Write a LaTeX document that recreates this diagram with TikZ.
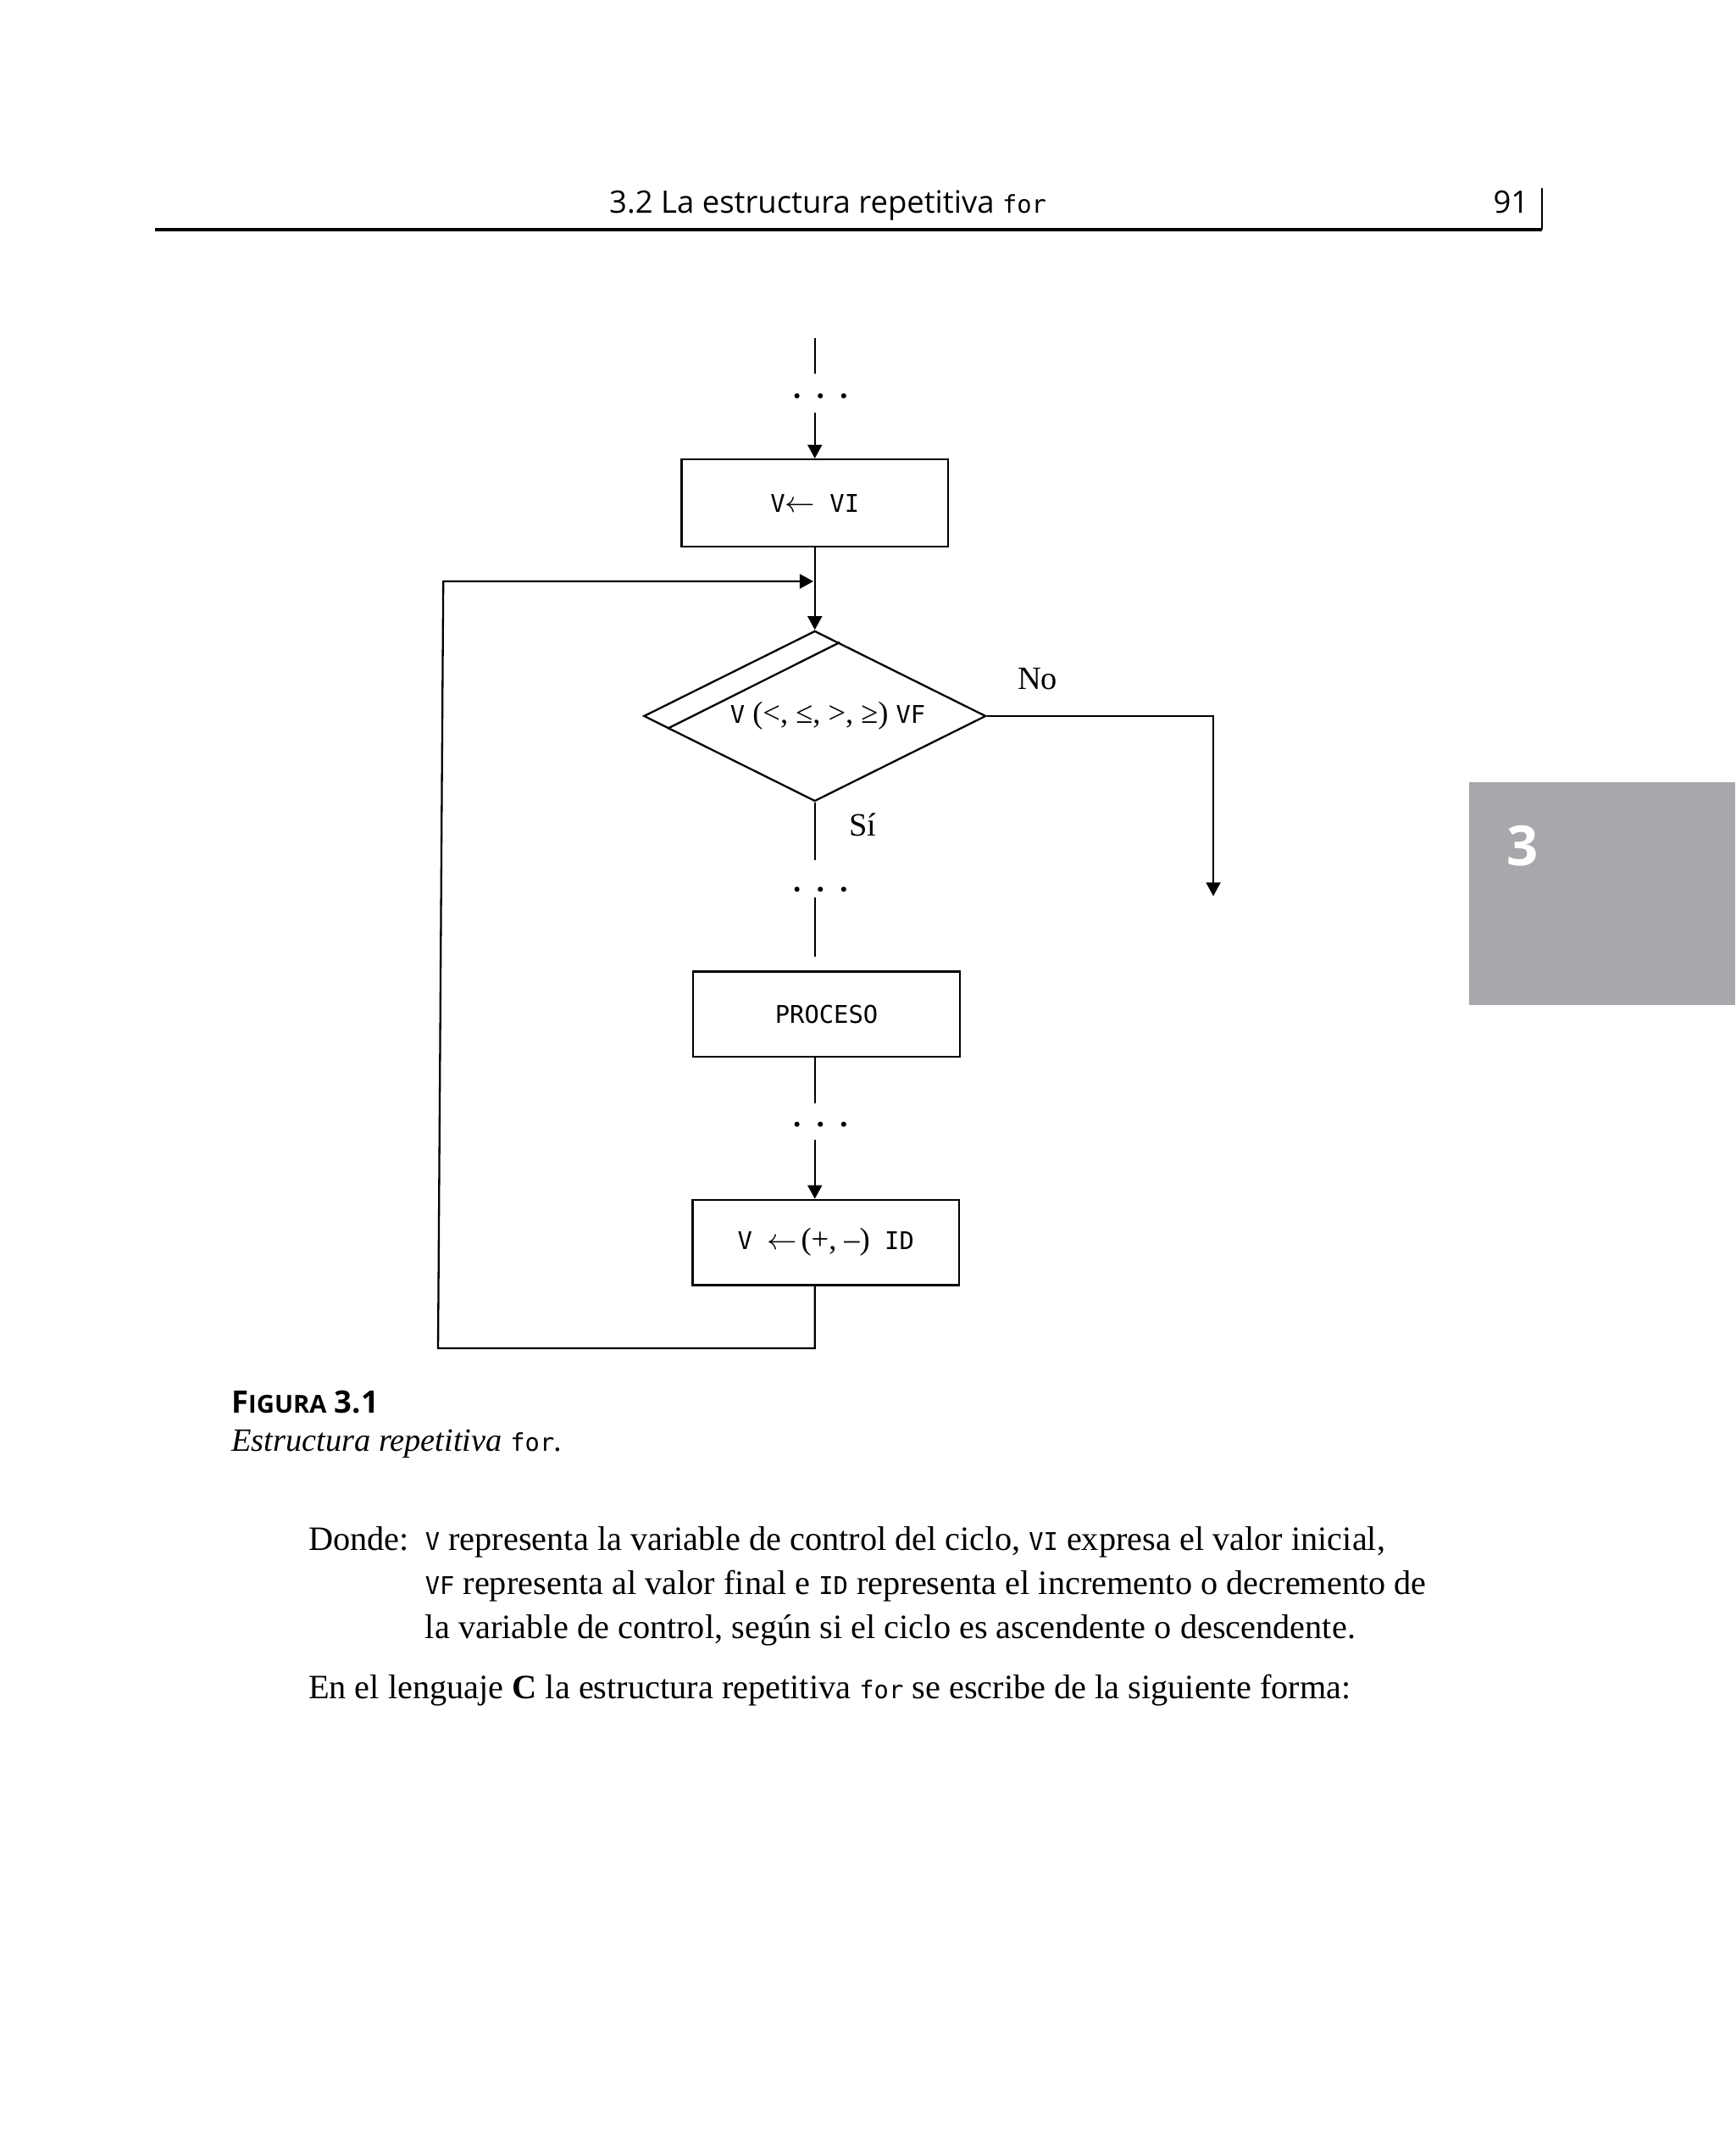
\documentclass[tikz,border=0pt]{standalone}
\usepackage{fontspec}
\setmainfont{Liberation Serif}
\setsansfont{Open Sans}
\setmonofont{DejaVu Sans Mono}
\usetikzlibrary{shapes.geometric,arrows.meta,calc}
\newcommand\pxu{0.014846cm}
\newcommand\codetxt[1]{{\fontsize{7.5}{9}\ttfamily\upshape #1}}
\newcommand\assignarrow{{\fontsize{9.5}{11}\rmfamily$\leftarrow$}}
\definecolor{tabgray}{RGB}{168,168,172}
\tikzset{
  flowline/.style={line width=0.6pt},
  flowarrow/.style={line width=0.6pt,-{Triangle[length=4.2pt,width=4.4pt]}},
  flowbox/.style={draw,line width=0.6pt,rectangle,inner sep=0pt,minimum width=194*\pxu,minimum height=62*\pxu,font=\fontsize{7.5}{9}\ttfamily},
  decision/.style={draw,line width=0.6pt,diamond,aspect=2,inner sep=0pt,minimum width=249*\pxu,minimum height=124*\pxu,font=\fontsize{9.5}{11}\selectfont},
  branchlabel/.style={inner sep=0pt,font=\fontsize{10}{12}\selectfont},
  bodyline/.style={anchor=base west,inner sep=0pt,font=\fontsize{10.5}{13.5}\selectfont},
}
\begin{document}
\begin{tikzpicture}[x=\pxu,y=-\pxu]
\useasboundingbox (0,0) rectangle (1263,1568);
%header
\node[anchor=base west,inner sep=0,font=\fontsize{9.5}{11}\sffamily] (headtitle) at (443,155){3.2 La estructura repetitiva \codetxt{for}};
\node[anchor=base east,inner sep=0,font=\fontsize{9.5}{11}\sffamily] (headpage) at (1113,155){91};
\path[draw,line width=1pt] (113,167) -- (1122,167);
\path[draw,line width=0.5pt] (1122,137) -- (1122,167);
%chapter tab
\fill[tabgray] (1069,569) rectangle (1263,731);
\node[anchor=base west,inner sep=0,text=white,font=\fontsize{17}{20}\sffamily\bfseries] (tabnum) at (1096,630){3};

%flowchart
\node[flowbox,minimum height=63.5*\pxu] (init) at (593,366){V\assignarrow\ VI};
\node[decision] (cond) at (593,521){\hspace*{8pt}\codetxt{V} (<, ≤, >, ≥) \codetxt{VF}};
\node[flowbox] (proc) at (601.5,738){PROCESO};
\node[flowbox] (incr) at (601,904){V \assignarrow\,{\fontsize{9.5}{11}\rmfamily(+, –)} ID};
\path[draw,flowline] ($(cond.west)!0.145!(cond.south)$) -- ($(cond.north)!0.145!(cond.east)$);

\coordinate (topA) at (593,246);
\coordinate (topB) at (593,272);
\coordinate (topC) at (593,300);
\coordinate (midA) at (593,626);
\coordinate (midB) at (593,653);
\coordinate (midC) at (593,696);
\coordinate (lowA) at (593,803);
\coordinate (lowB) at (593,829);
\coordinate (loopR) at (593,981);
\coordinate (loopL) at (318.8,981);
\coordinate (loopT) at (322.6,423);
\coordinate (loopin) at (592,423);
\coordinate (noend) at (883,652);

\path[draw,flowline] (topA) -- (topB);
\path[draw,flowarrow] (topC) -- (init.north);
\path[draw,flowarrow] (init.south) -- (cond.north);
\path[draw,flowline] (cond.south) -- (midA);
\path[draw,flowline] (midB) -- (midC);
\path[draw,flowline] (proc.south -| cond.south) -- (lowA);
\path[draw,flowarrow] (lowB) -- (incr.north -| cond.south);
\path[draw,flowarrow] (incr.south -| cond.south) -- (loopR) -- (loopL) -- (loopT) -- (loopin);
\path[draw,flowarrow] (cond.east) -- (cond.east -| noend) -- (noend);

\foreach \y in {288,647,818}{
    \foreach \dx in {-13,4,21}{
        \fill (593+\dx,\y) circle[radius=0.8pt];
    }
}
\node[branchlabel] (nolabel) at (755,494){No};
\node[branchlabel] (silabel) at (628,600){Sí};

%caption
\node[anchor=base west,inner sep=0,font=\fontsize{9.5}{11}\sffamily\bfseries] (figlabel) at (168,1028){F{\fontsize{7.6}{9}\selectfont IGURA} 3.1};
\node[anchor=base west,inner sep=0,font=\fontsize{10}{12}\itshape] (figcaption) at (168,1056){Estructura repetitiva \codetxt{for}.};

%text
\node[bodyline] (donde) at (224,1128){Donde:};
\node[bodyline] (lineA) at (309,1128){\codetxt{V} representa la variable de control del ciclo, \codetxt{VI} expresa el valor inicial,};
\node[bodyline] (lineB) at (309,1160){\codetxt{VF} representa al valor final e \codetxt{ID} representa el incremento o decremento de};
\node[bodyline] (lineC) at (309,1192){la variable de control, según si el ciclo es ascendente o descendente.};
\node[bodyline] (lineD) at (224,1236){En el lenguaje \textbf{C} la estructura repetitiva \codetxt{for} se escribe de la siguiente forma:};
\end{tikzpicture}
\end{document}
